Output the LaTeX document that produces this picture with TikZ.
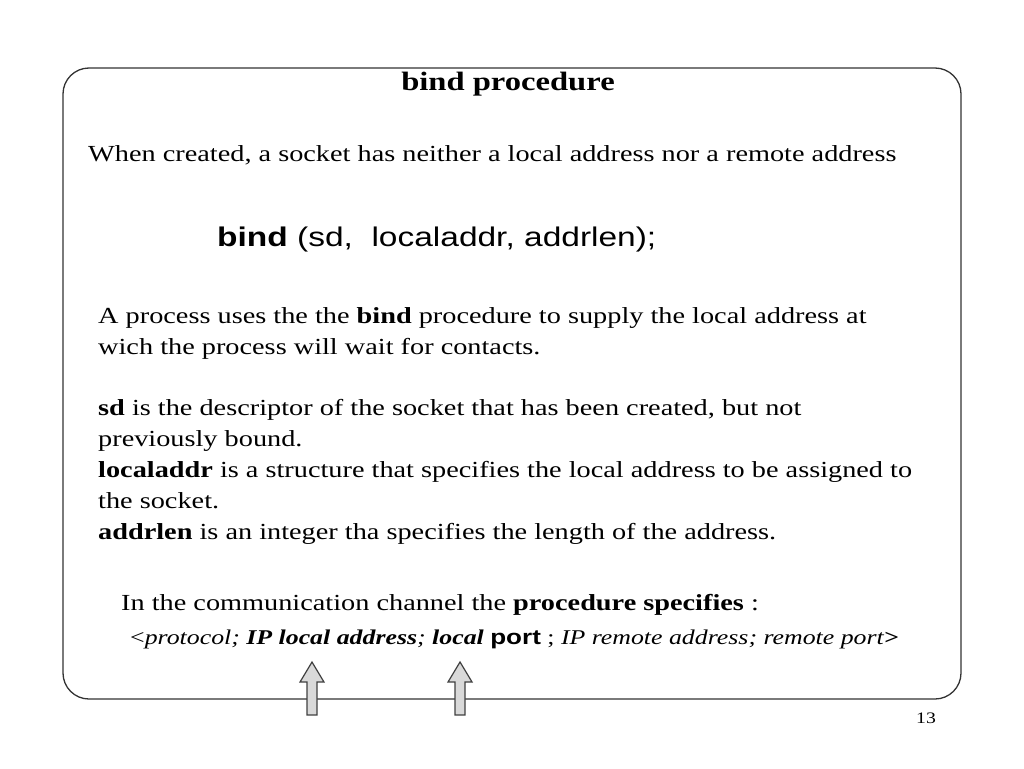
\documentclass[tikz,border=0pt]{standalone}
\usepackage{fontspec}
\setmainfont{Liberation Serif}[FakeStretch=1.23]
\setsansfont{Liberation Sans}[FakeStretch=1.24]
\begin{document}
\begin{tikzpicture}[x=1pt,y=-1pt,
  txt/.style={anchor=west,inner sep=0pt,font=\fontsize{23}{31}\selectfont,align=left},
  blockarrow/.style={draw=black!75,fill=black!15,line width=1.2pt}]
\useasboundingbox (0,0) rectangle (1024,768);
\draw[line width=1.3pt,rounded corners=26pt,draw=black!80] (63,68) rectangle (961,699);
\node[inner sep=0pt,font=\fontsize{26.5}{30}\selectfont\bfseries] (title) at (508,84) {bind procedure};
\node[txt] (l1) at (88,155) {When created, a socket has neither a local address nor a remote address};
\node[txt,font=\sffamily\fontsize{27}{32}\selectfont] (call) at (217,240) {\textbf{bind} (sd,\ \ localaddr, addrlen);};
\node[txt,anchor=north west] (p1) at (98,307) {A process uses the the \textbf{bind} procedure to supply the local address at\\wich the process will wait for contacts.};
\node[txt,anchor=north west] (p2) at (98,399) {\textbf{sd} is the descriptor of the socket that has been created, but not\\previously bound.\\\textbf{localaddr} is a structure that specifies the local address to be assigned to\\the socket.\\\textbf{addrlen} is an integer tha specifies the length of the address.};
\node[txt] (p3) at (121,605) {In the communication channel the \textbf{procedure specifies} :};
\node[txt,font=\fontsize{21}{26}\selectfont] (p4) at (130,639) {<\textit{protocol; \textbf{IP local address}; \textbf{local} \textup{\textbf{\sffamily port}}} ; \textit{IP remote address; remote port}\textbf{>}};
\coordinate (a1) at (312,662);
\coordinate (a2) at (460,662);
\foreach \c in {a1,a2}{
  \draw[blockarrow] (\c) -- ++(12,20) -- ++(-7,0) -- ++(0,33) -- ++(-10,0) -- ++(0,-33) -- ++(-7,0) -- cycle;
}
\node[inner sep=0pt,font=\fontsize{16}{18}\selectfont] (pg) at (926,718) {13};
\end{tikzpicture}
\end{document}
